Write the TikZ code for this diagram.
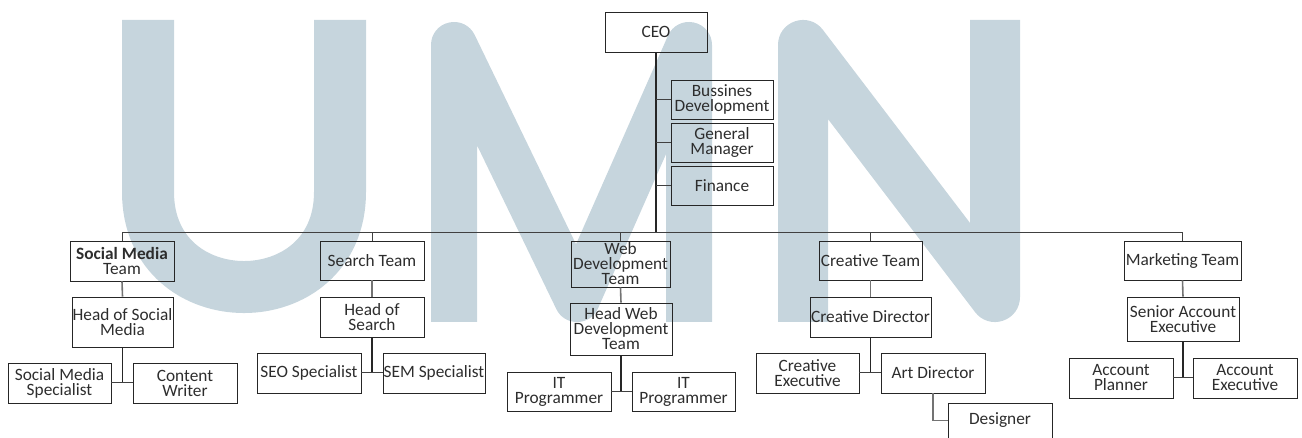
\documentclass[tikz,border=0pt]{standalone}
\usepackage{fontspec}
\setmainfont{Carlito}
\definecolor{wm}{RGB}{198,213,221}
\definecolor{txt}{RGB}{45,45,45}
\begin{document}
\begin{tikzpicture}[x=1pt,y=-1pt,
  box/.style={draw=black!85, line width=0.9pt, align=center, inner sep=0pt, text=txt, font=\fontsize{17.3}{15}\selectfont},
  buscon/.style={draw=black!75, line width=1pt},
  graycon/.style={draw=black!55, line width=1.6pt},
  darkcon/.style={draw=black!85, line width=1.6pt},
  wmark/.style={draw=wm, line cap=butt, line join=round}]
\useasboundingbox (0,0) rectangle (1302,438);
% watermark
\draw[wmark, line width=52pt] (148,20) -- (148,192) .. controls (148,318.7) and (340,318.7) .. (340,192) -- (340,20);
\draw[wmark, line width=46pt] (454,322) -- (454,45) -- (577,299) -- (689,45) -- (689,322);
\draw[wmark, line width=50pt] (803,322) -- (803,45) -- (995,297) -- (995,20);
% nodes
\node[box, minimum width=102pt, minimum height=40pt] (ceo) at (656,32) {CEO};
\node[box, minimum width=102pt, minimum height=39pt] (bd) at (722,99.5) {Bussines\\Development};
\node[box, minimum width=102pt, minimum height=39pt] (gm) at (722,142.5) {General\\Manager};
\node[box, minimum width=102pt, minimum height=39pt] (fin) at (722,185.5) {Finance};
\coordinate (bus) at (656,233);
\node[box, minimum width=104pt, minimum height=40pt] (smt) at (122,261) {\textbf{Social Media}\\Team};
\node[box, minimum width=101pt, minimum height=50pt] (hsm) at (122.5,322) {Head of Social\\Media};
\node[box, minimum width=103pt, minimum height=40pt] (sms) at (59.5,383) {Social Media\\Specialist};
\node[box, minimum width=104pt, minimum height=40pt] (cw) at (185,383) {Content\\Writer};
\node[box, minimum width=104pt, minimum height=39pt] (st) at (372,260.5) {Search Team};
\node[box, minimum width=104pt, minimum height=40pt] (hs) at (372,317) {Head of\\Search};
\node[box, minimum width=104pt, minimum height=40pt] (seo) at (309,373) {SEO Specialist};
\node[box, minimum width=102pt, minimum height=40pt] (sem) at (434,373) {SEM Specialist};
\node[box, minimum width=99pt, minimum height=46pt] (wdt) at (620.5,264) {Web\\Development\\Team};
\node[box, minimum width=102pt, minimum height=52pt] (hwdt) at (621,329) {Head Web\\Development\\Team};
\node[box, minimum width=104pt, minimum height=39pt] (it1) at (559,391.5) {IT\\Programmer};
\node[box, minimum width=103pt, minimum height=39pt] (it2) at (683.5,391.5) {IT\\Programmer};
\node[box, minimum width=103pt, minimum height=39pt] (ct) at (870.5,260.5) {Creative Team};
\node[box, minimum width=121pt, minimum height=40pt] (cd) at (870.5,317) {Creative Director};
\node[box, minimum width=103pt, minimum height=40pt] (ce) at (807.5,373) {Creative\\Executive};
\node[box, minimum width=104pt, minimum height=40pt] (ad) at (933,373) {Art Director};
\node[box, minimum width=104pt, minimum height=35pt] (des) at (1000,420.5) {Designer};
\node[box, minimum width=117pt, minimum height=39pt] (mt) at (1182.5,260.5) {Marketing Team};
\node[box, minimum width=112pt, minimum height=44pt] (sae) at (1183,319) {Senior Account\\Executive};
\node[box, minimum width=104pt, minimum height=40pt] (ap) at (1121,378) {Account\\Planner};
\node[box, minimum width=104pt, minimum height=40pt] (ae) at (1245,378) {Account\\Executive};
% CEO connectors
\draw[darkcon] (ceo.south) -- (bus);
\foreach \n in {bd,gm,fin} \draw[buscon] (ceo.south |- \n.west) -- (\n.west);
% bus
\draw[buscon] (smt.north) -- (smt.north |- bus) -- (mt.north |- bus) -- (mt.north);
\foreach \n in {st,wdt,ct} \draw[buscon] (\n.north |- bus) -- (\n.north);
% team -> head
\draw[graycon] (smt.south) -- (hsm.north);
\draw[graycon] (st.south) -- (hs.north);
\draw[graycon] (wdt.south) -- (hwdt.north);
\draw[graycon] (ct.south) -- (cd.north);
\draw[graycon] (mt.south) -- (sae.north);
% head -> staff
\draw[darkcon] (hsm.south) -- (hsm.south |- sms.east);
\draw[buscon] (sms.east) -- (cw.west);
\draw[darkcon] (hs.south) -- (hs.south |- seo.east);
\draw[buscon] (seo.east) -- (sem.west);
\draw[darkcon] (hwdt.south) -- (hwdt.south |- it1.east);
\draw[buscon] (it1.east) -- (it2.west);
\draw[darkcon] (cd.south) -- (cd.south |- ce.east);
\draw[buscon] (ce.east) -- (ad.west);
\draw[darkcon] (sae.south) -- (sae.south |- ap.east);
\draw[buscon] (ap.east) -- (ae.west);
\draw[graycon] (ad.south) -- (ad.south |- des.west) -- (des.west);
\end{tikzpicture}
\end{document}
